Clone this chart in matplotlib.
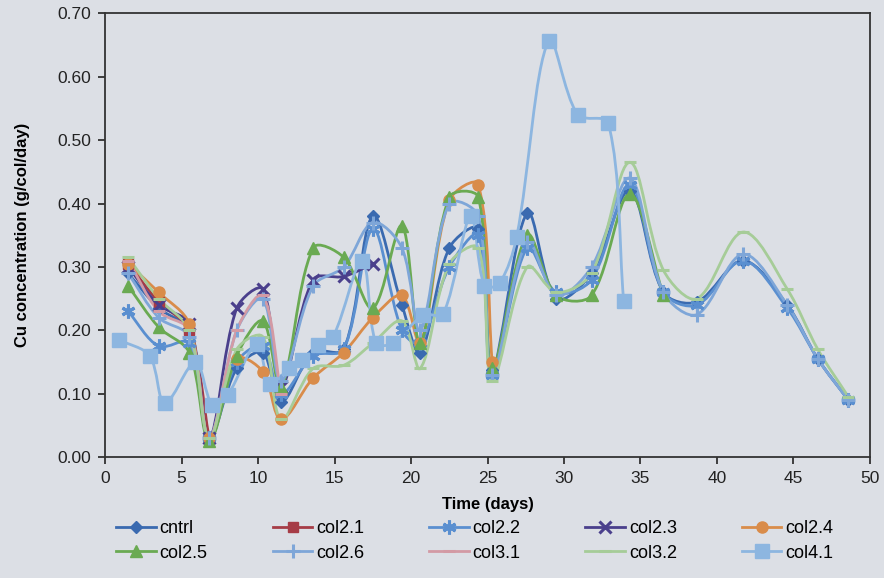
import numpy as np
import matplotlib.pyplot as plt
from matplotlib.path import Path
from matplotlib.patches import PathPatch
from matplotlib.lines import Line2D

plt.rcParams['font.family'] = ['Liberation Sans', 'DejaVu Sans']

# sampling days shared by most columns
days = [1.5, 3.5, 5.5, 6.8, 8.6, 10.3, 11.5, 13.6, 15.6, 17.5, 19.4, 20.6, 22.5,
        24.4, 25.3, 27.6, 29.5, 31.8, 34.3, 36.5, 38.7, 41.7, 44.6, 46.6, 48.6]

cntrl = [0.29, 0.235, 0.20, 0.03, 0.14, 0.165, 0.087, 0.165, 0.17, 0.38, 0.24, 0.165, 0.33,
         0.36, 0.137, 0.385, 0.25, 0.29, 0.42, 0.26, 0.245, 0.31, 0.24, 0.155, 0.09]
col2_1 = [0.305, 0.245, 0.20, 0.03]
col2_2 = [0.23, 0.175, 0.18, 0.03, 0.15, 0.175, 0.10, 0.16, 0.17, 0.36, 0.20, 0.18, 0.30,
          0.35, 0.13, 0.33, 0.26, 0.28, 0.43, 0.26, 0.24, 0.31, 0.235, 0.155, 0.09]
col2_3 = [0.30, 0.24, 0.21, 0.03, 0.235, 0.265, 0.11, 0.28, 0.285, 0.305]
col2_4 = [0.305, 0.26, 0.21, 0.03, 0.155, 0.135, 0.06, 0.125, 0.165, 0.22, 0.255, 0.18,
          0.405, 0.43, 0.15]
col2_5 = [0.27, 0.205, 0.165, 0.025, 0.16, 0.215, 0.11, 0.33, 0.315, 0.235, 0.365, 0.18,
          0.41, 0.41, 0.14, 0.35, 0.255, 0.255, 0.415, 0.255]
col2_6 = [0.29, 0.22, 0.19, 0.03, 0.20, 0.25, 0.12, 0.27, 0.30, 0.37, 0.33, 0.20, 0.40,
          0.38, 0.13, 0.34, 0.255, 0.30, 0.44, 0.26, 0.225, 0.32, 0.24, 0.155, 0.09]
col3_1 = [0.31, 0.23, 0.20, 0.03, 0.20, 0.255, 0.10]
col3_2 = [0.315, 0.25, 0.20, 0.03, 0.17, 0.19, 0.06, 0.14, 0.145, 0.18, 0.215, 0.14, 0.305,
          0.33, 0.12, 0.30, 0.26, 0.29, 0.465, 0.295, 0.25, 0.355, 0.265, 0.17, 0.095]

# col4.1 was sampled on its own days
days_4_1 = [0.9, 2.9, 3.9, 5.9, 7.0, 8.0, 9.9, 10.8, 12.0, 12.9, 13.9, 14.9, 16.8, 17.7,
            18.8, 20.8, 22.1, 23.9, 24.8, 25.8, 26.9, 29.0, 30.9, 32.9, 33.9]
col4_1 = [0.185, 0.16, 0.085, 0.15, 0.083, 0.098, 0.178, 0.115, 0.14, 0.153, 0.177, 0.19,
          0.31, 0.18, 0.18, 0.224, 0.226, 0.38, 0.27, 0.275, 0.347, 0.657, 0.54, 0.527, 0.247]

series = [
    ('cntrl', days, cntrl, '#3a6ab0', 'D', 6),
    ('col2.1', days, col2_1, '#a63c46', 's', 7),
    ('col2.2', days, col2_2, '#5a8fd0', (6, 2, 0), 10),
    ('col2.3', days, col2_3, '#4a3f8c', 'x', 9),
    ('col2.4', days, col2_4, '#d98c4a', 'o', 8),
    ('col2.5', days, col2_5, '#6aaa52', '^', 8),
    ('col2.6', days, col2_6, '#7ea6d8', '+', 10),
    ('col3.1', days, col3_1, '#d39aa4', '_', 8),
    ('col3.2', days, col3_2, '#a6cc98', '_', 8),
    ('col4.1', days_4_1, col4_1, '#8db6e0', 's', 10),
]

bg = '#dcdfe5'
px = np.array([15.3, 634.0])  # screen pixels per data unit, x and y


def smooth_path(xs, ys):
    # smoothed line as cubic Bezier segments; tangent split by the on-screen
    # lengths of the two neighbouring segments (equal spacing -> Catmull-Rom)
    p = np.column_stack([xs[:len(ys)], ys])
    n = len(p)
    seg = np.hypot(*(np.diff(p, axis=0) * px).T)
    verts = [p[0]]
    codes = [Path.MOVETO]

    def ctrl(i, j):
        # control point next to p[i] on the segment towards p[j]
        a = p[i - 1] if i > 0 else p[i]
        b = p[i + 1] if i + 1 < n else p[i]
        dl = seg[i - 1] if i > 0 else 0
        dr = seg[i] if i + 1 < n else 0
        tot = dl + dr
        if tot == 0:
            return p[i]
        own = seg[min(i, j)]
        sign = 1 if j > i else -1
        return p[i] + sign * (b - a) * own / tot / 3

    for i in range(n - 1):
        verts += [ctrl(i, i + 1), ctrl(i + 1, i), p[i + 1]]
        codes += [Path.CURVE4] * 3
    return Path(verts, codes)


fig = plt.figure(figsize=(8.84, 5.78), dpi=100, facecolor=bg)
ax = fig.add_axes([0.119, 0.209, 0.865, 0.768], facecolor=bg)

handles = []
for name, xs, ys, c, m, ms in series:
    ax.add_patch(PathPatch(smooth_path(xs, ys), fill=False, edgecolor=c, lw=2.0))
    mew = 2.2 if m in ('x', '+', '_') or isinstance(m, tuple) else 1
    ax.plot(xs[:len(ys)], ys, ls='none', marker=m, ms=ms, color=c, mec=c, mew=mew)
    handles.append(Line2D([], [], color=c, lw=2.0, marker=m, ms=ms, mec=c, mew=mew))

ax.set_xlim(0, 50)
ax.set_ylim(0, 0.7)
ax.set_xticks(np.arange(0, 51, 5))
ax.set_yticks(np.arange(0, 0.71, 0.1))
ax.yaxis.set_major_formatter(plt.FormatStrFormatter('%.2f'))
ax.tick_params(direction='out', length=5, width=1.2, pad=5, labelsize=12.5, colors='#222222')
for s in ax.spines.values():
    s.set_color('#333333')
    s.set_linewidth(1.3)

ax.set_xlabel('Time (days)', fontsize=12, fontweight='bold', labelpad=8)
ax.set_ylabel('Cu concentration (g/col/day)', fontsize=12, fontweight='bold', labelpad=20)

# legend is filled row by row, matplotlib fills columns first
order = [0, 5, 1, 6, 2, 7, 3, 8, 4, 9]
fig.legend([handles[i] for i in order], [series[i][0] for i in order], ncol=5,
           frameon=False, loc='center', bbox_to_anchor=(0.537, 0.064), fontsize=13,
           handlelength=2.2, columnspacing=3.6, labelspacing=0.4, handletextpad=0.2)

fig.savefig('out.png', dpi=100, facecolor=bg)
